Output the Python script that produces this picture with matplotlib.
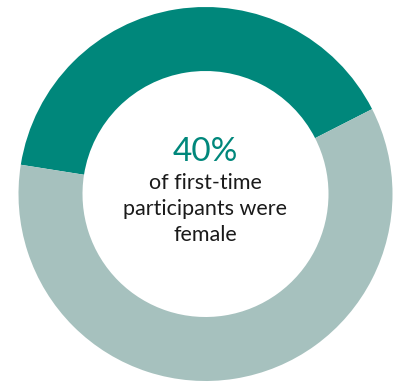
import matplotlib.pyplot as plt

labels = ["Female", "Male"]
shares = [40, 60]
colors = ["#00877B", "#A6C1BE"]
headline = "40%"
caption = ["of first-time", "participants were", "female"]

fig = plt.figure(figsize=(4.02, 3.83), dpi=100)
ax = fig.add_axes([0, 0, 1, 1])

# donut, first share starts at left and runs clockwise over the top
ax.pie(shares, colors=colors, startangle=171, counterclock=False,
       radius=187, center=(205.5, 189), frame=True,
       wedgeprops=dict(width=187 - 123, linewidth=0))
ax.set_xlim(0, 402)
ax.set_ylim(0, 383)
ax.set_aspect("equal")
ax.axis("off")

ax.text(205, 383 - 152, headline, ha="center", va="center",
        fontsize=24, color="#00877B", family="Lato")
ys = [183, 209.5, 235]
for line, y in zip(caption, ys):
    ax.text(205, 383 - y, line, ha="center", va="center",
            fontsize=15.5, color="#1a1a1a", family="Lato")

fig.savefig("out.png", dpi=100)
